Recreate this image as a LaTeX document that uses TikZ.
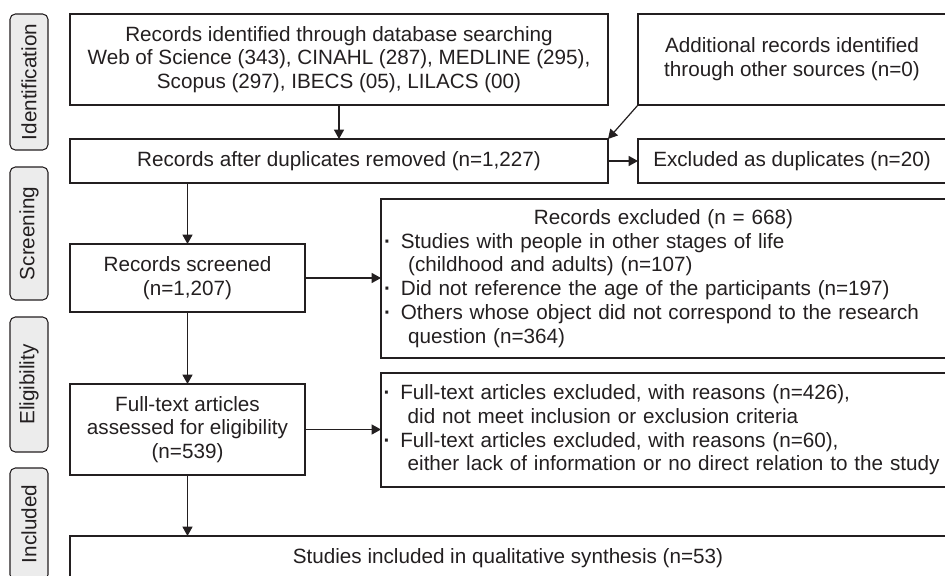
\documentclass[tikz,border=0pt]{standalone}
\usepackage{fontspec}
\setmainfont{Liberation Sans}
\usetikzlibrary{arrows.meta}
\definecolor{ink}{RGB}{35,31,32}
\definecolor{stagegray}{RGB}{236,236,236}
\newcommand{\bul}{\makebox[12.5pt][l]{\textbf{\textperiodcentered}}}
\newcommand{\cont}{\hspace*{18pt}}

\begin{document}
\begin{tikzpicture}[x=0.75pt,y=0.75pt,yscale=-1,
    font=\fontsize{15.5pt}{17.8pt}\selectfont, color=ink,
    box/.style={draw=ink, line width=0.9pt, inner sep=2pt, outer sep=0pt, align=center},
    stage/.style={draw=ink, fill=stagegray, line width=0.8pt, rounded corners=4pt,
      rotate=90, minimum height=28.5pt, inner sep=1pt, outer sep=0pt},
    flow/.style={draw=ink, line width=0.9pt, -{Triangle[length=7pt,width=7.5pt]}}]
  \useasboundingbox (0,0) rectangle (945,575);
  \clip (0,0) rectangle (945,575);

  % Stage labels
  \node[stage, minimum width=102pt] (sid) at (29,82) {Identification};
  \node[stage, minimum width=99.75pt] (sscr) at (29,233.5) {Screening};
  \node[stage, minimum width=101.25pt] (selig) at (29,384.5) {Eligibility};
  \node[stage, minimum width=84pt] (sincl) at (29,524) {Included};

  % Boxes
  \node[box, minimum width=403.5pt, minimum height=68.25pt] (ident) at (339,59.5)
    {Records identified through database searching\\
     Web of Science (343), CINAHL (287), MEDLINE (295),\\
     Scopus (297), IBECS (05), LILACS (00)};
  \node[box, minimum width=231pt, minimum height=68.25pt] (other) at (792,59.5)
    {Additional records identified\\through other sources (n=0)};
  \node[box, minimum width=403.5pt, minimum height=33pt] (dup) at (339,161)
    {Records after duplicates removed (n=1,227)};
  \node[box, minimum width=231pt, minimum height=33pt] (exdup) at (792,161)
    {Excluded as duplicates (n=20)};
  \node[box, minimum width=176.25pt, minimum height=51pt] (screen) at (187.5,278)
    {Records screened\\(n=1,207)};
  \node[box, anchor=west, minimum width=423.75pt, minimum height=119.25pt,
    text width=419pt, align=left] (exscreen) at (381,278.5)
    {\hfill Records excluded (n = 668)\hfill\null\\
     \bul Studies with people in other stages of life\\
     \cont(childhood and adults) (n=107)\\
     \bul Did not reference the age of the participants (n=197)\\
     \bul Others whose object did not correspond to the research\\
     \cont question (n=364)};
  \node[box, minimum width=176.25pt, minimum height=68.25pt] (full) at (187.5,429.5)
    {Full-text articles\\assessed for eligibility\\(n=539)};
  \node[box, anchor=west, minimum width=423.75pt, minimum height=85.5pt,
    text width=440pt, align=left] (exfull) at (381,430)
    {\bul Full-text articles excluded, with reasons (n=426),\\
     \cont did not meet inclusion or exclusion criteria\\
     \bul Full-text articles excluded, with reasons (n=60),\\
     \cont either lack of information or no direct relation to the study};
  \node[box, minimum width=657pt, minimum height=33pt] (incl) at (508,558)
    {Studies included in qualitative synthesis (n=53)};

  % Connectors
  \draw[flow] (ident) -- (dup);
  \draw[flow] (other.south west) -- (dup.north east);
  \draw[flow] (dup) -- (exdup);
  \draw[flow] (dup.south -| screen.north) -- (screen);
  \draw[flow] (screen.east) -- (screen.east -| exscreen.west);
  \draw[flow] (screen) -- (full);
  \draw[flow] (full.east) -- (full.east -| exfull.west);
  \draw[flow] (full) -- (full.south |- incl.north);
\end{tikzpicture}
\end{document}
